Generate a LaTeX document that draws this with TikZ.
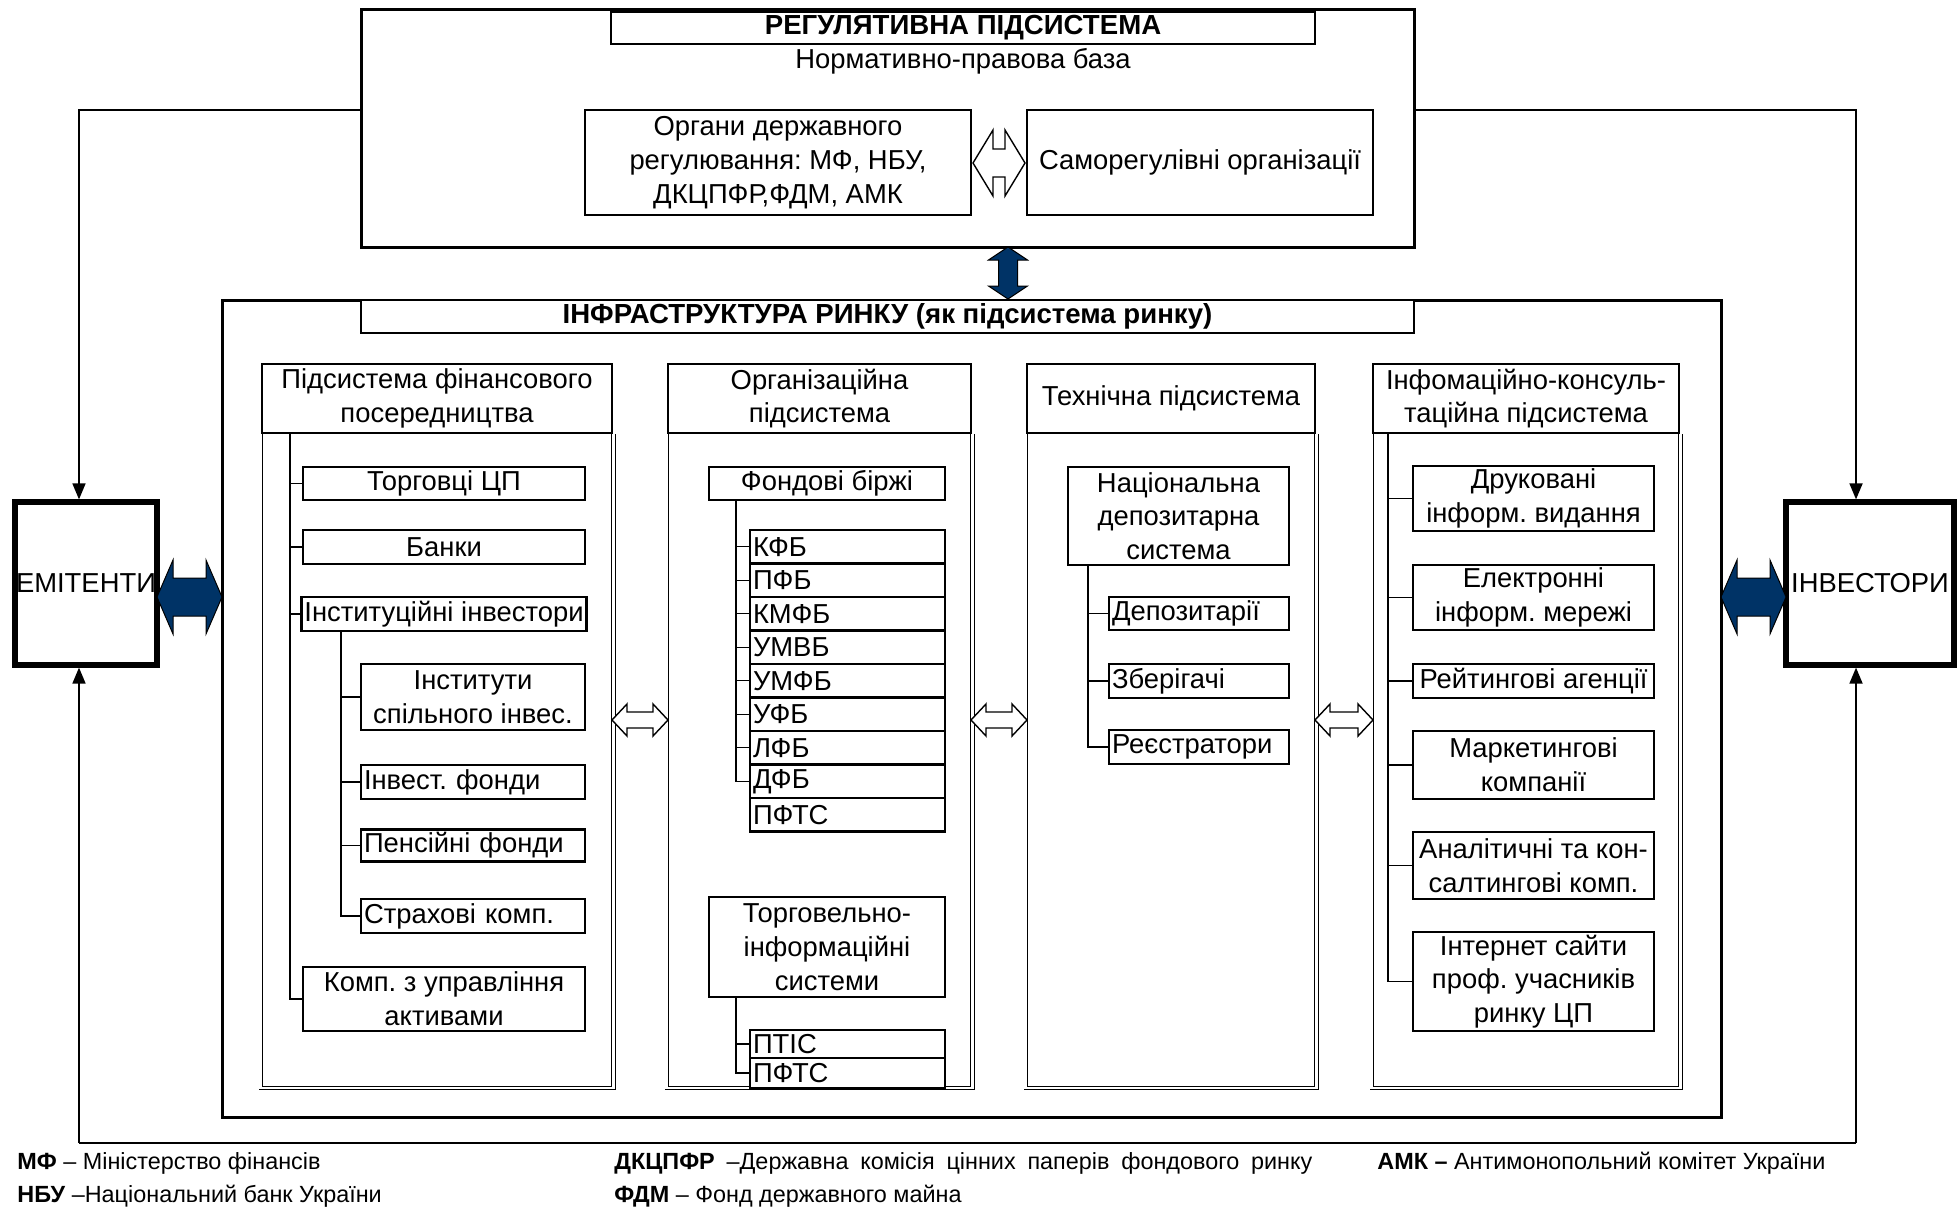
\documentclass[tikz,border=0pt]{standalone}
\usepackage{fontspec}
\setmainfont{Liberation Sans}
\frenchspacing
\usetikzlibrary{arrows.meta,calc}
\definecolor{navy}{RGB}{0,51,102}
\newcommand\mybx[7]{\node[#1, minimum width={((#5)-(#3))*0.5pt}, minimum height={((#6)-(#4))*0.5pt}] (#2) at ({((#3)+(#5))/2},{((#4)+(#6))/2}) {#7};}
\newcommand\mylbx[7]{\node[#1, minimum width={((#5)-(#3))*0.5pt}, minimum height={((#6)-(#4))*0.5pt}, text width={((#5)-(#3))*0.5pt-3pt}, align=left] (#2) at ({((#3)+(#5))/2},{((#4)+(#6))/2}) {#7};}
\newcommand\hblock[7]{\draw[#1] (#2,#4) -- ({#2+#7},{#4-#6}) -- ({#2+#7},{#4-#5}) -- ({#3-#7},{#4-#5}) -- ({#3-#7},{#4-#6}) -- (#3,#4) -- ({#3-#7},{#4+#6}) -- ({#3-#7},{#4+#5}) -- ({#2+#7},{#4+#5}) -- ({#2+#7},{#4+#6}) -- cycle;}
\newcommand\vblock[7]{\draw[#1] (#4,#2) -- ({#4-#6},{#2+#7}) -- ({#4-#5},{#2+#7}) -- ({#4-#5},{#3-#7}) -- ({#4-#6},{#3-#7}) -- (#4,#3) -- ({#4+#6},{#3-#7}) -- ({#4+#5},{#3-#7}) -- ({#4+#5},{#2+#7}) -- ({#4+#6},{#2+#7}) -- cycle;}
\tikzset{
 box/.style={draw, line width=1.2pt, fill=white, align=center, inner sep=1.5pt, font=\fontsize{13.7}{16.85}\selectfont},
 ttl/.style={box, font=\bfseries\fontsize{13.8}{15}\selectfont},
 frame/.style={draw, line width=1.5pt, inner sep=0pt},
 big/.style={draw, line width=2.6pt, fill=white, inner sep=0pt, font=\fontsize{13.7}{16.85}\selectfont},
 tree/.style={line width=0.6pt},
 dbl/.style={double, double distance=1.4pt, line width=0.45pt},
 hollow/.style={draw, line width=0.7pt, fill=white, line join=miter},
 navyarr/.style={draw=black, line width=0.5pt, fill=navy},
 fb/.style={line width=0.8pt},
 tip/.style={-{Triangle[length=8pt,width=6.5pt]}},
 leg/.style={inner sep=0pt, font=\fontsize{11.7}{14}\selectfont},
 txt/.style={inner sep=0pt, font=\fontsize{13.7}{16.85}\selectfont}
}
\begin{document}
\begin{tikzpicture}[x=0.5pt,y=-0.5pt]
\fill[white] (0,0) rectangle (1957,1209);
\useasboundingbox (0,0) rectangle (1957,1209);

% regulatory subsystem
\mybx{frame}{reg}{361}{10}{1414}{247}{}
\mybx{ttl}{regt}{611}{12}{1315}{44}{РЕГУЛЯТИВНА ПІДСИСТЕМА}
\node[txt] (norm) at (963,61) {Нормативно-правова база};
\mybx{box}{org}{585}{110}{971}{215}{Органи державного\\регулювання: МФ, НБУ,\\ДКЦПФР,ФДМ, АМК}
\mybx{box}{samo}{1027}{110}{1373}{215}{Саморегулівні організації}

% infrastructure
\mybx{frame}{infra}{222}{300}{1721}{1117}{}
\mybx{ttl}{infrat}{361}{300}{1414}{333}{ІНФРАСТРУКТУРА РИНКУ (як підсистема ринку)}

\coordinate (bot) at (0,1088);
\mybx{box}{h1}{262}{364}{612}{433}{Підсистема фінансового\\посередництва}
\mybx{box}{h2}{668}{364}{971}{433}{Організаційна\\підсистема}
\mybx{box}{h3}{1027}{364}{1315}{433}{Технічна підсистема}
\mybx{box}{h4}{1373}{364}{1679}{433}{Інфомаційно-консуль-\\таційна підсистема}
\foreach \h in {h1,h2,h3,h4}{
 \draw[dbl] (\h.south west) -- (\h.south west |- bot) -- (\h.south east |- bot) -- (\h.south east);
}

% column 1
\mybx{box}{torg}{303}{467}{585}{500}{Торговці ЦП}
\mybx{box}{bank}{303}{530}{585}{564}{Банки}
\mybx{box}{inst}{303}{597}{585}{631}{Інституційні інвестори}
\mybx{box}{isi}{361}{664}{585}{730}{Інститути\\спільного інвес.}
\mylbx{box}{ifond}{361}{765}{585}{799}{Інвест. фонди}
\mylbx{box}{pfond}{361}{830}{585}{861}{Пенсійні фонди}
\mylbx{box}{strah}{361}{899}{585}{933}{Страхові комп.}
\mybx{box}{komp}{303}{967}{585}{1031}{Комп. з управління\\активами}

% column 2
\mybx{box}{fb}{709}{467}{945}{500}{Фондові біржі}
\foreach \t [count=\i] in {КФБ,ПФБ,КМФБ,УМВБ,УМФБ,УФБ,ЛФБ,ДФБ,ПФТС}{
 \mylbx{box}{r\i}{750}{530+33.5*(\i-1)}{945}{530+33.5*\i}{\t}
}
\mybx{box}{tis}{709}{897}{945}{997}{Торговельно-\\інформаційні\\системи}
\mylbx{box}{ptis}{750}{1030}{945}{1058}{ПТІС}
\mylbx{box}{pfts}{750}{1058}{945}{1088}{ПФТС}

% column 3
\mybx{box}{nds}{1068}{467}{1289}{565}{Національна\\депозитарна\\система}
\mylbx{box}{dep}{1109}{597}{1289}{630}{Депозитарії}
\mylbx{box}{zber}{1109}{664}{1289}{698}{Зберігачі}
\mylbx{box}{reestr}{1109}{730}{1289}{764}{Реєстратори}

% column 4
\mybx{box}{dr}{1413}{467}{1654}{530}{Друковані\\інформ. видання}
\mybx{box}{el}{1413}{565}{1654}{630}{Електронні\\інформ. мережі}
\mybx{box}{rt}{1413}{664}{1654}{698}{Рейтингові агенції}
\mybx{box}{mk}{1413}{731}{1654}{799}{Маркетингові\\компанії}
\mybx{box}{an}{1413}{832}{1654}{899}{Аналітичні та кон-\\салтингові комп.}
\mybx{box}{inet}{1413}{932}{1654}{1031}{Інтернет сайти\\проф. учасників\\ринку ЦП}

% trees
\coordinate (k1) at (290,0);
\coordinate (k1b) at (341,0);
\coordinate (k2) at (736,0);
\coordinate (k3) at (1088,0);
\coordinate (k4) at (1388,0);
\draw[tree] (h1.south -| k1) -- (komp.west -| k1) -- (komp.west);
\foreach \n in {torg,bank,inst}{\draw[tree] (\n.west -| k1) -- (\n.west);}
\draw[tree] (inst.south -| k1b) -- (strah.west -| k1b) -- (strah.west);
\foreach \n in {isi,ifond,pfond}{\draw[tree] (\n.west -| k1b) -- (\n.west);}
\draw[tree] (fb.south -| k2) -- (r8.west -| k2) -- (r8.west);
\foreach \n in {r1,r2,r3,r4,r5,r6,r7}{\draw[tree] (\n.west -| k2) -- (\n.west);}
\draw[tree] (tis.south -| k2) -- (pfts.west -| k2) -- (pfts.west);
\draw[tree] (ptis.west -| k2) -- (ptis.west);
\draw[tree] (nds.south -| k3) -- (reestr.west -| k3) -- (reestr.west);
\foreach \n in {dep,zber}{\draw[tree] (\n.west -| k3) -- (\n.west);}
\draw[tree] (h4.south -| k4) -- (inet.west -| k4) -- (inet.west);
\foreach \n in {dr,el,rt,mk,an}{\draw[tree] (\n.west -| k4) -- (\n.west);}

% issuers / investors
\mybx{big}{em}{15}{502}{157}{665}{ЕМІТЕНТИ}
\mybx{big}{inv}{1786}{502}{1954}{665}{ІНВЕСТОРИ}

% feedback lines
\coordinate (lt) at (79,110);
\coordinate (rtc) at (1856,110);
\coordinate (lb) at (79,1143);
\coordinate (rb) at (1856,1143);
\draw[fb,tip] (reg.west |- lt) -- (lt) -- (lt |- em.north);
\draw[fb,tip] (reg.east |- rtc) -- (rtc) -- (rtc |- inv.north);
\draw[fb,tip] (lb) -- (lb |- em.south);
\draw[fb,tip] (rb) -- (rb |- inv.south);
\draw[fb] (lb) -- (rb);

% block arrows
\hblock{hollow}{973}{1025}{163}{14}{33}{20}
\hblock{hollow}{612}{668}{720}{8}{16}{15}
\hblock{hollow}{971}{1027}{720}{8}{16}{15}
\hblock{hollow}{1315}{1373}{720}{8}{16}{15}
\hblock{navyarr}{157}{222}{597}{19}{37}{16}
\hblock{navyarr}{1721}{1786}{597}{19}{37}{16}
\vblock{navyarr}{247}{299}{1008}{9.5}{19.5}{13}

% legend
\node[leg, anchor=west] (l1) at (17,1163) {\textbf{МФ} – Міністерство фінансів};
\node[leg, anchor=west] (l2) at (17,1196) {\textbf{НБУ} –Національний банк України};
\node[leg, anchor=west] (l3) at (614,1163) {\makebox[349pt][s]{\textbf{ДКЦПФР} –Державна комісія цінних паперів фондового ринку}};
\node[leg, anchor=west] (l4) at (614,1196) {\textbf{ФДМ} – Фонд державного майна};
\node[leg, anchor=west] (l5) at (1377,1163) {\textbf{АМК –} Антимонопольний комітет України};
\end{tikzpicture}
\end{document}
